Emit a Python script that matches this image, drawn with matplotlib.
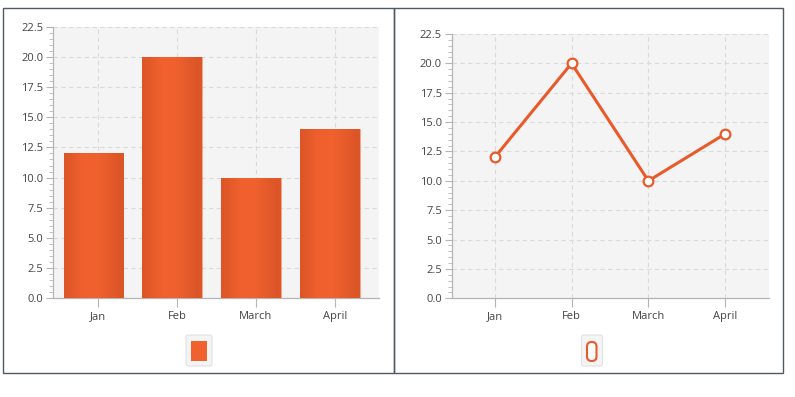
import numpy as np
import matplotlib
matplotlib.use("Agg")
import matplotlib.pyplot as plt
from matplotlib.patches import Rectangle, FancyBboxPatch
from matplotlib.ticker import MultipleLocator, FormatStrFormatter

# chart data
months = ['Jan', 'Feb', 'March', 'April']
values = [12, 20, 10, 14]

plt.rcParams['font.family'] = ['Open Sans', 'DejaVu Sans']

ORANGE = '#f0612e'
DARK = '#dc5527'
BG = '#f4f4f4'
GRID = '#dadada'
AXIS = '#b5b5b5'
TEXT = '#444444'

W, H = 795, 397
fig = plt.figure(figsize=(W / 100, H / 100), dpi=100)


def fx(px):
    return px / W


def fy(py):
    return 1 - py / H


def style_axes(ax, xlim):
    ax.set_facecolor(BG)
    ax.set_xlim(*xlim)
    ax.set_ylim(0, 22.5)
    ax.yaxis.set_major_locator(MultipleLocator(2.5))
    ax.yaxis.set_minor_locator(MultipleLocator(0.5))
    ax.yaxis.set_major_formatter(FormatStrFormatter('%.1f'))
    ax.set_xticks(range(len(months)))
    ax.set_xticklabels(months)
    for s in ['top', 'right']:
        ax.spines[s].set_visible(False)
    for s in ['left', 'bottom']:
        ax.spines[s].set_color(AXIS)
        ax.spines[s].set_linewidth(0.9)
    ax.tick_params(axis='y', which='major', length=5, width=0.8, color=AXIS,
                   labelsize=8, labelcolor=TEXT, pad=2)
    ax.tick_params(axis='y', which='minor', length=3, width=0.6, color=AXIS)
    ax.tick_params(axis='x', length=6.5, width=0.8, color=AXIS,
                   labelsize=8, labelcolor=TEXT, pad=3)
    ax.grid(True, which='major', color=GRID, linestyle=(0, (4, 3)), linewidth=0.8)
    ax.set_axisbelow(True)


# panel borders
for x0, x1 in [(3.3, 394.3), (394.3, 783.3)]:
    fig.patches.append(Rectangle((fx(x0), fy(373.3)), fx(x1) - fx(x0),
                                 fy(8.3) - fy(373.3), transform=fig.transFigure,
                                 fill=False, edgecolor='#4f5964', linewidth=1.0))

# bar chart (bars sit a little left of their category tick)
ax1 = fig.add_axes([fx(53.3), fy(298.3), fx(379) - fx(53.3), fy(26.7) - fy(298.3)])
style_axes(ax1, (-0.57, 3.56))
xpos = np.arange(len(months)) - 0.06
bars = ax1.bar(xpos, values, width=0.76, color=ORANGE,
               edgecolor='#f7a58a', linewidth=0.5, zorder=3)
grad = np.array([[0.1, 0.7, 1.0, 1.0, 0.85, 0.4, 0.0]])
cmap = matplotlib.colors.LinearSegmentedColormap.from_list('g', [DARK, ORANGE])
for b in bars:
    x, y = b.get_x(), b.get_y()
    im = ax1.imshow(grad, extent=(x, x + b.get_width(), y, y + b.get_height()),
                    cmap=cmap, aspect='auto', zorder=3.5, interpolation='bicubic')
    im.set_clip_path(b)
ax1.set_xlim(-0.57, 3.56)
ax1.set_ylim(0, 22.5)

# line chart
ax2 = fig.add_axes([fx(451.7), fy(298.3), fx(769) - fx(451.7), fy(34) - fy(298.3)])
style_axes(ax2, (-0.56, 3.57))
ax2.plot(range(len(months)), values, color='#e85a2a', linewidth=2.2,
         marker='o', markersize=7, markerfacecolor='white',
         markeredgecolor='#e85a2a', markeredgewidth=1.6, zorder=3, clip_on=False)

# legends
fig.patches.append(FancyBboxPatch((fx(186), fy(366)), fx(26), fy(335) - fy(366),
                                  boxstyle='round,pad=0,rounding_size=0.004',
                                  transform=fig.transFigure, facecolor=BG,
                                  edgecolor='#e2e2e2', linewidth=0.8))
fig.patches.append(Rectangle((fx(190.7), fy(361)), fx(16.3), fy(341) - fy(361),
                             transform=fig.transFigure, facecolor=ORANGE,
                             edgecolor='none'))
fig.patches.append(FancyBboxPatch((fx(581.5), fy(366)), fx(21), fy(335) - fy(366),
                                  boxstyle='round,pad=0,rounding_size=0.004',
                                  transform=fig.transFigure, facecolor=BG,
                                  edgecolor='#e2e2e2', linewidth=0.8))
fig.patches.append(FancyBboxPatch((fx(587), fy(361)), fx(9.5), fy(342) - fy(361),
                                  boxstyle='round,pad=0,rounding_size=0.0058',
                                  mutation_aspect=2.0,
                                  transform=fig.transFigure, facecolor='white',
                                  edgecolor='#e85a2a', linewidth=1.5))

fig.savefig('out.png', dpi=100, facecolor='white')
